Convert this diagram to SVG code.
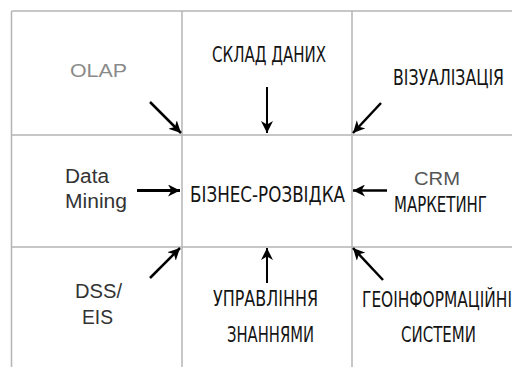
<svg xmlns="http://www.w3.org/2000/svg" width="512" height="367" viewBox="0 0 512 367">
<defs>
<style>
.grid{stroke:#b4b4b4;stroke-width:1.5;fill:none}
.cyr{font-family:"Liberation Sans Narrow","DejaVu Sans Condensed","Liberation Sans",sans-serif;fill:#141414}
.lat{font-family:"Liberation Sans","DejaVu Sans",sans-serif}
.arr{stroke:#000;fill:none;marker-end:url(#ah)}
</style>
<marker id="ah" markerUnits="userSpaceOnUse" viewBox="0 0 12 12" refX="12" refY="6" markerWidth="12" markerHeight="12" orient="auto">
<path d="M0,0 L12,6 L0,12 L3.5,6 z" fill="#000"/>
</marker>
</defs>
<rect width="512" height="367" fill="#fff"/>
<g id="grid">
<line class="grid" x1="11.5" y1="11" x2="512" y2="11"/>
<line class="grid" x1="11.5" y1="11" x2="11.5" y2="367"/>
<line class="grid" x1="182" y1="11" x2="182" y2="367"/>
<line class="grid" x1="352" y1="11" x2="352" y2="367"/>
<line class="grid" x1="11.5" y1="135" x2="512" y2="135"/>
<line class="grid" x1="11.5" y1="247" x2="512" y2="247"/>
</g>
<g id="olap"><text class="lat" x="70" y="77" font-size="18" fill="#8a8a8a" textLength="57" lengthAdjust="spacingAndGlyphs">OLAP</text></g>
<g id="sklad"><text class="cyr" x="212" y="62" font-size="22" textLength="114" lengthAdjust="spacingAndGlyphs">СКЛАД ДАНИХ</text></g>
<g id="vizual"><text class="cyr" x="393" y="85" font-size="21" textLength="111" lengthAdjust="spacingAndGlyphs">ВІЗУАЛІЗАЦІЯ</text></g>
<g id="datamining">
<text class="lat" x="65" y="183" font-size="20" fill="#333" textLength="44" lengthAdjust="spacingAndGlyphs">Data</text>
<text class="lat" x="65" y="208" font-size="20" fill="#333" textLength="62" lengthAdjust="spacingAndGlyphs">Mining</text>
</g>
<g id="bi"><text class="cyr" x="190" y="201.5" font-size="22" textLength="155" lengthAdjust="spacingAndGlyphs">БІЗНЕС-РОЗВІДКА</text></g>
<g id="crm">
<text class="lat" x="414" y="185" font-size="18" fill="#555" textLength="46" lengthAdjust="spacingAndGlyphs">CRM</text>
<text class="cyr" x="394" y="211.5" font-size="21" textLength="93" lengthAdjust="spacingAndGlyphs">МАРКЕТИНГ</text>
</g>
<g id="dss">
<text class="lat" x="75" y="298" font-size="20" fill="#333" textLength="47" lengthAdjust="spacingAndGlyphs">DSS/</text>
<text class="lat" x="82" y="324" font-size="20" fill="#333" textLength="31" lengthAdjust="spacingAndGlyphs">EIS</text>
</g>
<g id="km">
<text class="cyr" x="213" y="305.5" font-size="21" textLength="105" lengthAdjust="spacingAndGlyphs">УПРАВЛІННЯ</text>
<text class="cyr" x="227" y="341.5" font-size="21" textLength="87" lengthAdjust="spacingAndGlyphs">ЗНАННЯМИ</text>
</g>
<g id="gis">
<text class="cyr" x="362" y="306.5" font-size="21" textLength="150" lengthAdjust="spacingAndGlyphs">ГЕОІНФОРМАЦІЙНІ</text>
<text class="cyr" x="401" y="341.5" font-size="21" textLength="75" lengthAdjust="spacingAndGlyphs">СИСТЕМИ</text>
</g>
<g id="connectors">
<line class="arr" x1="150" y1="102" x2="181" y2="133" stroke-width="2.5"/>
<line class="arr" x1="267" y1="87" x2="267" y2="133" stroke-width="2"/>
<line class="arr" x1="381" y1="103" x2="353" y2="133" stroke-width="2.5"/>
<line class="arr" x1="137" y1="190.5" x2="180" y2="190.5" stroke-width="3"/>
<line class="arr" x1="387" y1="190.5" x2="353" y2="190.5" stroke-width="2.5"/>
<line class="arr" x1="150" y1="278" x2="180" y2="248" stroke-width="2.5"/>
<line class="arr" x1="267" y1="283" x2="267" y2="248" stroke-width="2"/>
<line class="arr" x1="383" y1="280" x2="353" y2="248" stroke-width="2.5"/>
</g>
</svg>
